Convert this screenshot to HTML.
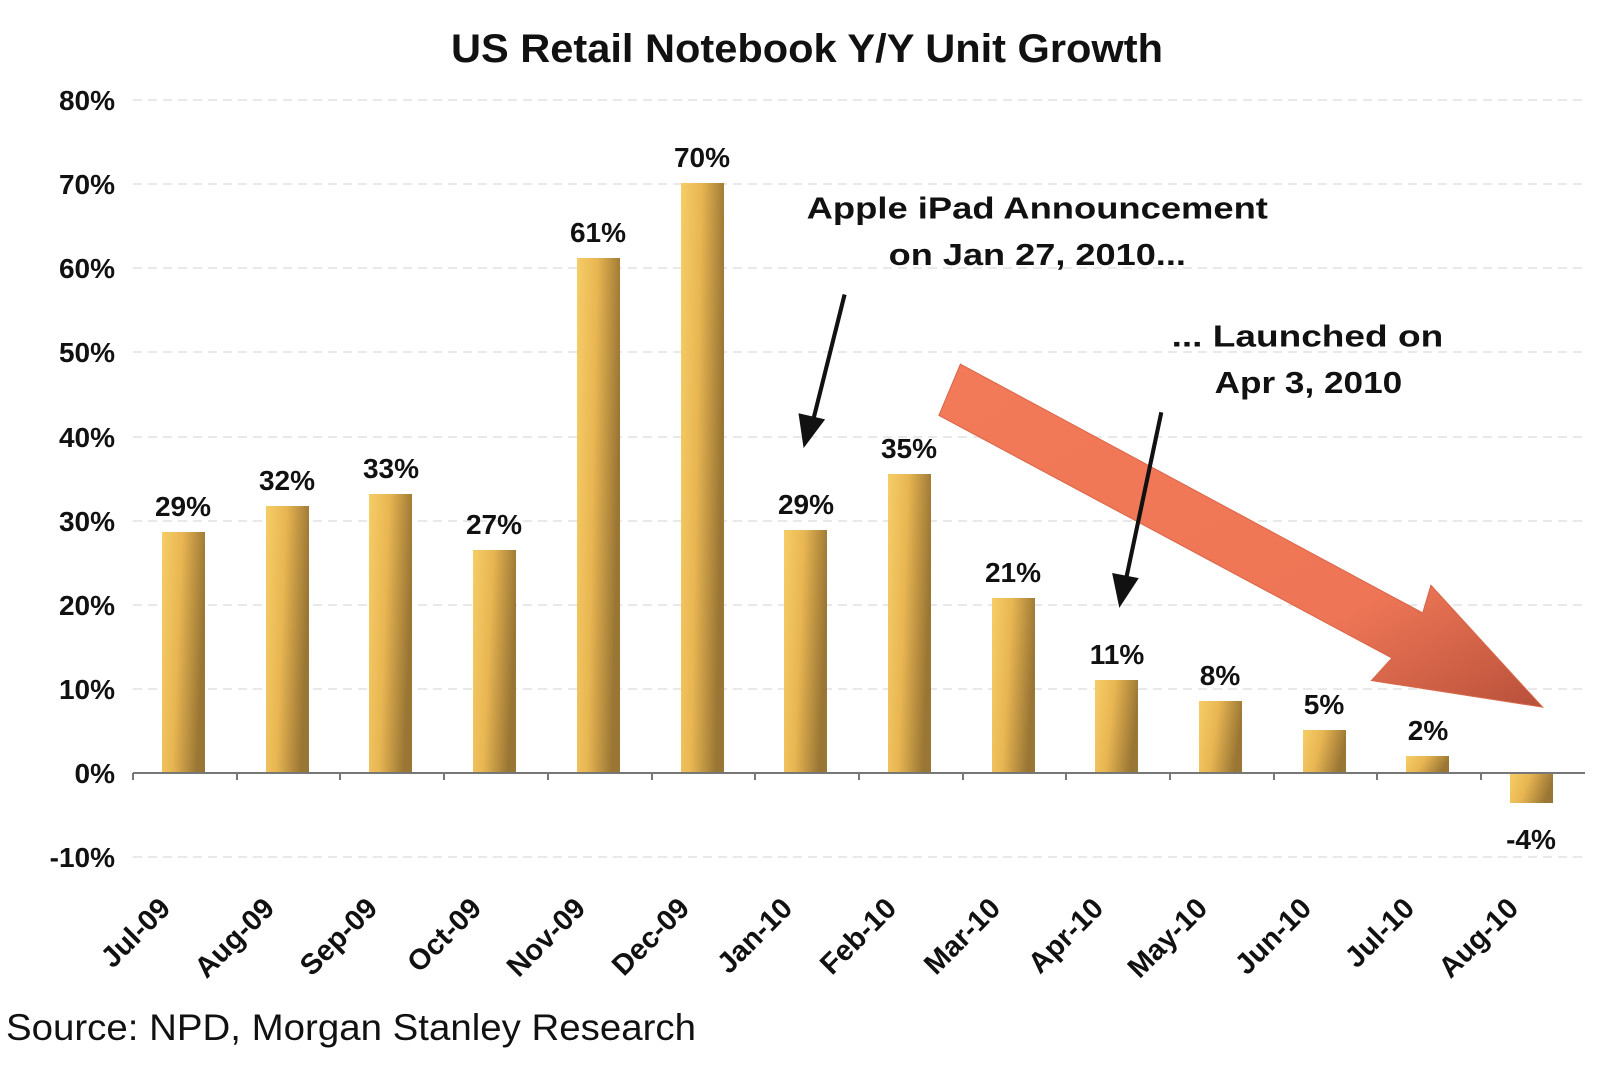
<!DOCTYPE html>
<html><head><meta charset="utf-8"><style>
html,body{margin:0;padding:0;background:#fff}
svg{display:block}
text{font-family:"Liberation Sans",Arial,sans-serif}
</style></head><body>
<svg width="1600" height="1078" viewBox="0 0 1600 1078" xmlns="http://www.w3.org/2000/svg">
<defs>
<linearGradient id="bg" x1="0" y1="0" x2="1" y2="0.25">
<stop offset="0" stop-color="#f6cd66"/>
<stop offset="0.45" stop-color="#e8b652"/>
<stop offset="1" stop-color="#9a7634"/>
</linearGradient>
<linearGradient id="rg" x1="0" y1="0" x2="1" y2="1">
<stop offset="0" stop-color="#f27a58"/>
<stop offset="0.7" stop-color="#ee7656"/>
<stop offset="1" stop-color="#b8503a"/>
</linearGradient>
</defs>
<rect width="1600" height="1078" fill="#fff"/>
<text x="807" y="62" font-size="40" font-weight="bold" text-anchor="middle" textLength="712" lengthAdjust="spacingAndGlyphs" fill="#111">US Retail Notebook Y/Y Unit Growth</text>
<g stroke="#e2e2e2" stroke-width="1.5" stroke-dasharray="9 6">
<line x1="133" y1="100" x2="1585" y2="100"/><line x1="133" y1="184" x2="1585" y2="184"/>
<line x1="133" y1="268" x2="1585" y2="268"/><line x1="133" y1="352" x2="1585" y2="352"/>
<line x1="133" y1="437" x2="1585" y2="437"/><line x1="133" y1="521" x2="1585" y2="521"/>
<line x1="133" y1="605" x2="1585" y2="605"/><line x1="133" y1="689" x2="1585" y2="689"/>
<line x1="133" y1="857" x2="1585" y2="857"/>
</g>
<g font-size="28" font-weight="bold" text-anchor="end" fill="#111">
<text x="115" y="110">80%</text><text x="115" y="194">70%</text><text x="115" y="278">60%</text>
<text x="115" y="362">50%</text><text x="115" y="447">40%</text><text x="115" y="531">30%</text>
<text x="115" y="615">20%</text><text x="115" y="699">10%</text><text x="115" y="783">0%</text>
<text x="115" y="867">-10%</text>
</g>
<g fill="url(#bg)">
<rect x="162" y="532" width="43" height="241"/>
<rect x="266" y="506" width="43" height="267"/>
<rect x="369" y="494" width="43" height="279"/>
<rect x="473" y="550" width="43" height="223"/>
<rect x="577" y="258" width="43" height="515"/>
<rect x="681" y="183" width="43" height="590"/>
<rect x="784" y="530" width="43" height="243"/>
<rect x="888" y="474" width="43" height="299"/>
<rect x="992" y="598" width="43" height="175"/>
<rect x="1095" y="680" width="43" height="93"/>
<rect x="1199" y="701" width="43" height="72"/>
<rect x="1303" y="730" width="43" height="43"/>
<rect x="1406" y="756" width="43" height="17"/>
<rect x="1510" y="773" width="43" height="30"/>
</g>
<g stroke="#777" stroke-width="2">
<line x1="133" y1="773" x2="1585" y2="773"/>
<line x1="133" y1="773" x2="133" y2="780"/><line x1="237" y1="773" x2="237" y2="780"/>
<line x1="340" y1="773" x2="340" y2="780"/><line x1="444" y1="773" x2="444" y2="780"/>
<line x1="548" y1="773" x2="548" y2="780"/><line x1="652" y1="773" x2="652" y2="780"/>
<line x1="755" y1="773" x2="755" y2="780"/><line x1="859" y1="773" x2="859" y2="780"/>
<line x1="963" y1="773" x2="963" y2="780"/><line x1="1066" y1="773" x2="1066" y2="780"/>
<line x1="1170" y1="773" x2="1170" y2="780"/><line x1="1274" y1="773" x2="1274" y2="780"/>
<line x1="1377" y1="773" x2="1377" y2="780"/><line x1="1481" y1="773" x2="1481" y2="780"/>
</g>
<g font-size="28" font-weight="bold" text-anchor="middle" fill="#111">
<text x="183" y="516">29%</text><text x="287" y="490">32%</text><text x="391" y="478">33%</text>
<text x="494" y="534">27%</text><text x="598" y="242">61%</text><text x="702" y="167">70%</text>
<text x="806" y="514">29%</text><text x="909" y="458">35%</text><text x="1013" y="582">21%</text>
<text x="1117" y="664">11%</text><text x="1220" y="685">8%</text><text x="1324" y="714">5%</text>
<text x="1428" y="740">2%</text><text x="1531" y="849">-4%</text>
</g>
<g font-size="29" font-weight="bold" text-anchor="end" fill="#111">
<text transform="translate(172,910) rotate(-45)">Jul-09</text>
<text transform="translate(276,910) rotate(-45)">Aug-09</text>
<text transform="translate(379,910) rotate(-45)">Sep-09</text>
<text transform="translate(483,910) rotate(-45)">Oct-09</text>
<text transform="translate(587,910) rotate(-45)">Nov-09</text>
<text transform="translate(691,910) rotate(-45)">Dec-09</text>
<text transform="translate(794,910) rotate(-45)">Jan-10</text>
<text transform="translate(898,910) rotate(-45)">Feb-10</text>
<text transform="translate(1002,910) rotate(-45)">Mar-10</text>
<text transform="translate(1105,910) rotate(-45)">Apr-10</text>
<text transform="translate(1209,910) rotate(-45)">May-10</text>
<text transform="translate(1313,910) rotate(-45)">Jun-10</text>
<text transform="translate(1416,910) rotate(-45)">Jul-10</text>
<text transform="translate(1520,910) rotate(-45)">Aug-10</text>
</g>
<g transform="translate(0,-4.5) scale(1.025,1.024)">
<polygon points="937,360 1388,603 1396,576 1505,695 1338,669 1358,647 916,410" fill="url(#rg)" stroke="#d8664a" stroke-width="1"/>
<g stroke="#111" stroke-width="4" fill="#111">
<line x1="824" y1="292" x2="794" y2="412"/>
<polygon points="784,442 779,408 805,414" stroke="none"/>
<line x1="1133" y1="407" x2="1099" y2="568"/>
<polygon points="1092,598 1085,564 1111,569" stroke="none"/>
</g>
<g font-size="30" font-weight="bold" fill="#111">
<text x="1012" y="218" text-anchor="middle" textLength="450" lengthAdjust="spacingAndGlyphs">Apple iPad Announcement</text>
<text x="1012" y="263" text-anchor="middle" textLength="290" lengthAdjust="spacingAndGlyphs">on Jan 27, 2010...</text>
<text x="1143" y="343" textLength="265" lengthAdjust="spacingAndGlyphs">... Launched on</text>
<text x="1185" y="388" textLength="183" lengthAdjust="spacingAndGlyphs">Apr 3, 2010</text>
</g>
</g>
<text x="6" y="1040" font-size="37" fill="#111" textLength="690" lengthAdjust="spacingAndGlyphs">Source: NPD, Morgan Stanley Research</text>
</svg>
</body></html>
